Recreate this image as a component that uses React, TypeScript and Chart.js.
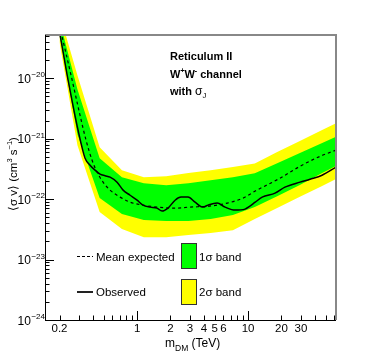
import React, { useEffect, useRef } from 'react';
import { Chart, registerables } from 'chart.js';

Chart.register(...registerables);

// Band grid (TeV) and limits (cm^3 s^-1)
const gridMass = [0.2, 0.29, 0.46, 0.73, 1.15, 1.83, 2.9, 4.6, 7.3, 11.5, 18.3, 29, 46, 73];
const twoSigmaHigh = [1.19e-19, 1.12e-20, 7.2e-22, 3.0e-22, 2.3e-22, 2.4e-22, 2.7e-22, 3.0e-22, 3.4e-22, 3.9e-22, 6.0e-22, 9.1e-22, 1.38e-21, 2.1e-21];
const oneSigmaHigh = [9.1e-20, 6.58e-21, 4.76e-22, 2.31e-22, 1.84e-22, 1.70e-22, 1.84e-22, 2.06e-22, 2.31e-22, 2.69e-22, 3.94e-22, 5.76e-22, 8.43e-22, 1.23e-21];
const oneSigmaLow = [5.33e-20, 1.19e-21, 1.04e-22, 5.65e-23, 4.5e-23, 4.33e-23, 4.33e-23, 4.67e-23, 5.44e-23, 7.38e-23, 1.12e-22, 1.70e-22, 2.69e-22, 4.09e-22];
const twoSigmaLow = [3.94e-20, 7.8e-22, 6.1e-23, 3.19e-23, 2.35e-23, 2.35e-23, 2.54e-23, 2.74e-23, 3.07e-23, 4.67e-23, 7.1e-23, 1.08e-22, 1.64e-22, 2.49e-22];

const meanMass = [0.2, 0.26, 0.306, 0.347, 0.393, 0.436, 0.494, 0.571, 0.703, 0.865, 1.13, 1.51, 2.2, 3.0, 4.5, 6.5, 9.0, 11.6, 19.4, 29.4, 44.5, 62];
const meanValue = [7.5e-20, 9.3e-21, 2.45e-21, 9.4e-22, 4.4e-22, 2.8e-22, 1.91e-22, 1.41e-22, 1.08e-22, 8.9e-23, 7.96e-23, 7.4e-23, 7.1e-23, 7.4e-23, 7.66e-23, 8.6e-23, 1.04e-22, 1.36e-22, 2.22e-22, 3.5e-22, 5.1e-22, 6.46e-22];

const obsMass = [0.194, 0.2024, 0.239, 0.294, 0.34, 0.377, 0.418, 0.464, 0.515, 0.571, 0.66, 0.748, 0.865, 1.0, 1.13, 1.31, 1.51, 1.68, 1.9, 2.2, 2.49, 2.88, 3.33, 3.93, 4.36, 5.26, 6.21, 7.64, 9.4, 10.4, 11.6, 13.4, 17.5, 21.5, 29.4, 36.2, 46.4, 62.1];
const obsValue = [7.5e-20, 5.14e-20, 9.3e-21, 1.38e-21, 4.76e-22, 3.65e-22, 3.02e-22, 2.59e-22, 2.44e-22, 2.31e-22, 1.91e-22, 1.41e-22, 1.16e-22, 9.6e-23, 7.96e-23, 7.38e-23, 7.1e-23, 6.34e-23, 7.1e-23, 9.6e-23, 1.08e-22, 1.08e-22, 8.9e-23, 7.38e-23, 7.96e-23, 8.59e-23, 7.38e-23, 6.58e-23, 6.84e-23, 7.66e-23, 8.9e-23, 1.08e-22, 1.26e-22, 1.58e-22, 1.91e-22, 2.14e-22, 2.49e-22, 3.38e-22];

const xTickValues = [0.2, 1, 2, 3, 4, 5, 6, 10, 20, 30];
const xTickLabels = ['0.2', '1', '2', '3', '4', '5', '6', '10', '20', '30'];
const yDecades = [-24, -23, -22, -21, -20];
const yExpLabels = ['\u221224', '\u221223', '\u221222', '\u221221', '\u221220'];

const FONT = '"Liberation Sans", Arial, Helvetica, sans-serif';
const f = (size: number, bold = false) => `${bold ? 'bold ' : ''}${size}px ${FONT}`;

type Run = { t: string; s: number; dy?: number; b?: boolean };
function runsWidth(ctx: CanvasRenderingContext2D, runs: Run[]) {
  let w = 0;
  for (const r of runs) { ctx.font = f(r.s, r.b); w += ctx.measureText(r.t).width; }
  return w;
}
function drawRuns(ctx: CanvasRenderingContext2D, x: number, y: number, runs: Run[]) {
  let cx = x;
  for (const r of runs) {
    ctx.font = f(r.s, r.b);
    ctx.fillText(r.t, cx, y + (r.dy || 0));
    cx += ctx.measureText(r.t).width;
  }
}

const overlay = {
  id: 'rootStyle',
  afterDraw(chart: any) {
    const { ctx, chartArea: a } = chart;
    const xs = chart.scales.x;
    const ys = chart.scales.y;
    ctx.save();
    ctx.textAlign = 'left';
    ctx.textBaseline = 'alphabetic';

    // frame
    ctx.strokeStyle = '#888';
    ctx.lineWidth = 2;
    ctx.beginPath();
    ctx.moveTo(a.left, a.top);
    ctx.lineTo(a.right, a.top);
    ctx.lineTo(a.right, a.bottom);
    ctx.stroke();
    ctx.strokeStyle = '#000';
    ctx.lineWidth = 1;
    ctx.beginPath();
    ctx.moveTo(a.left + 0.5, a.top);
    ctx.lineTo(a.left + 0.5, a.bottom + 0.5);
    ctx.lineTo(a.right, a.bottom + 0.5);
    ctx.stroke();

    // y ticks
    ctx.beginPath();
    yDecades.forEach((e) => {
      const base = Math.pow(10, e);
      const py = Math.round(ys.getPixelForValue(base)) + 0.5;
      ctx.moveTo(a.left, py); ctx.lineTo(a.left + 9, py);
      for (let k = 2; k <= 9; k++) {
        const v = k * base;
        if (v > ys.max) break;
        const p = Math.round(ys.getPixelForValue(v)) + 0.5;
        ctx.moveTo(a.left, p); ctx.lineTo(a.left + 4.5, p);
      }
    });
    // x ticks
    [0.1, 1, 10].forEach((base) => {
      if (base >= xs.min && base <= xs.max) {
        const px = Math.round(xs.getPixelForValue(base)) + 0.5;
        ctx.moveTo(px, a.bottom); ctx.lineTo(px, a.bottom - 9);
      }
      for (let k = 2; k <= 9; k++) {
        const v = k * base;
        if (v < xs.min || v > xs.max) continue;
        const p = Math.round(xs.getPixelForValue(v)) + 0.5;
        ctx.moveTo(p, a.bottom); ctx.lineTo(p, a.bottom - 4.5);
      }
    });
    ctx.stroke();

    ctx.fillStyle = '#000';
    // y labels
    yDecades.forEach((e, i) => {
      const py = ys.getPixelForValue(Math.pow(10, e));
      ctx.textAlign = 'right';
      ctx.font = f(8);
      const exp = yExpLabels[i];
      ctx.fillText(exp, 45, py - 1);
      const w = ctx.measureText(exp).width;
      ctx.font = f(12);
      ctx.fillText('10', 45 - w - 0.5, py + 4.5);
    });
    // x labels
    ctx.textAlign = 'center';
    ctx.font = f(11.5);
    xTickValues.forEach((v, i) => {
      ctx.fillText(xTickLabels[i], xs.getPixelForValue(v), 332);
    });
    ctx.textAlign = 'left';

    // x title
    drawRuns(ctx, 165, 347, [
      { t: 'm', s: 12 }, { t: 'DM', s: 8.5, dy: 3.5 }, { t: ' (TeV)', s: 12 },
    ]);

    // y title
    const yRuns: Run[] = [
      { t: '\u27E8\u03C3 v\u27E9 (cm', s: 11.5 }, { t: '3', s: 7.5, dy: -5 },
      { t: ' s', s: 11.5 }, { t: '\u22121', s: 7.5, dy: -5 }, { t: ')', s: 11.5 },
    ];
    ctx.save();
    ctx.translate(17, 174);
    ctx.rotate(-Math.PI / 2);
    drawRuns(ctx, -runsWidth(ctx, yRuns) / 2, 0, yRuns);
    ctx.restore();

    // caption block
    drawRuns(ctx, 170, 60, [{ t: 'Reticulum II', s: 11, b: true }]);
    drawRuns(ctx, 170, 78, [
      { t: 'W', s: 11, b: true }, { t: '+', s: 7, dy: -5, b: true },
      { t: 'W', s: 11, b: true }, { t: '-', s: 7, dy: -5, b: true },
      { t: ' channel', s: 11, b: true },
    ]);
    drawRuns(ctx, 170, 95, [
      { t: 'with ', s: 11, b: true }, { t: '\u03C3', s: 12 }, { t: 'J', s: 7.5, dy: 3 },
    ]);

    // legend
    ctx.strokeStyle = '#000';
    ctx.lineWidth = 1.2;
    ctx.setLineDash([3, 2]);
    ctx.beginPath(); ctx.moveTo(77, 256.5); ctx.lineTo(93, 256.5); ctx.stroke();
    ctx.setLineDash([]);
    ctx.strokeStyle = '#222';
    ctx.lineWidth = 2;
    ctx.beginPath(); ctx.moveTo(77, 292); ctx.lineTo(93, 292); ctx.stroke();
    ctx.font = f(11.5);
    ctx.fillStyle = '#000';
    ctx.fillText('Mean expected', 96, 261);
    ctx.fillText('Observed', 96, 296);

    ctx.lineWidth = 1;
    ctx.strokeStyle = '#333';
    ctx.fillStyle = '#00ff00';
    ctx.fillRect(181.5, 243.5, 15, 25);
    ctx.strokeRect(181.5, 243.5, 15, 25);
    ctx.fillStyle = '#ffff00';
    ctx.fillRect(181.5, 279.5, 15, 25);
    ctx.strokeRect(181.5, 279.5, 15, 25);
    ctx.fillStyle = '#000';
    ctx.font = f(11.5);
    ctx.fillText('1\u03C3 band', 199, 261);
    ctx.fillText('2\u03C3 band', 199, 296);

    ctx.restore();
  },
};

export default function App() {
  const ref = useRef<HTMLCanvasElement | null>(null);
  useEffect(() => {
    const canvas = ref.current;
    if (!canvas) return;
    const pts = (xs: number[], ys: number[]) => xs.map((x, i) => ({ x, y: ys[i] }));
    const band = { borderWidth: 0, borderColor: 'transparent', pointRadius: 0, tension: 0 };
    const chart = new Chart(canvas, {
      type: 'line',
      data: {
        datasets: [
          { ...band, label: '2s low', data: pts(gridMass, twoSigmaLow), fill: false, order: 10 },
          { ...band, label: '2s high', data: pts(gridMass, twoSigmaHigh), fill: 0, backgroundColor: '#ffff00', order: 9 },
          { ...band, label: '1s low', data: pts(gridMass, oneSigmaLow), fill: false, order: 8 },
          { ...band, label: '1s high', data: pts(gridMass, oneSigmaHigh), fill: 2, backgroundColor: '#00ff00', order: 7 },
          {
            label: 'Mean expected', data: pts(meanMass, meanValue), borderColor: '#000', borderWidth: 1.2,
            borderDash: [3, 3], pointRadius: 0, fill: false, cubicInterpolationMode: 'monotone', order: 2, clip: 0,
          },
          {
            label: 'Observed', data: pts(obsMass, obsValue), borderColor: '#000', borderWidth: 1.5,
            pointRadius: 0, fill: false, cubicInterpolationMode: 'monotone', order: 1, clip: 0,
          },
        ] as any,
      },
      options: {
        responsive: false,
        animation: false,
        devicePixelRatio: 1,
        layout: { padding: { top: 35, right: 38, left: 0, bottom: 0 } },
        plugins: { legend: { display: false }, tooltip: { enabled: false }, title: { display: false } },
        scales: {
          x: {
            type: 'logarithmic', min: 0.148, max: 62,
            ticks: { display: false }, grid: { display: false }, border: { display: false },
            afterFit: (s: any) => { s.height = 36; },
          },
          y: {
            type: 'logarithmic', min: 1e-24, max: 5.2e-20,
            ticks: { display: false }, grid: { display: false }, border: { display: false },
            afterFit: (s: any) => { s.width = 45; },
          },
        },
      } as any,
      plugins: [overlay],
    });
    return () => chart.destroy();
  }, []);
  return (
    <div style={{ position: 'fixed', left: 0, top: 0, width: 374, height: 356, background: '#fff' }}>
      <canvas ref={ref} width={374} height={356} style={{ display: 'block', width: 374, height: 356 }} />
    </div>
  );
}
